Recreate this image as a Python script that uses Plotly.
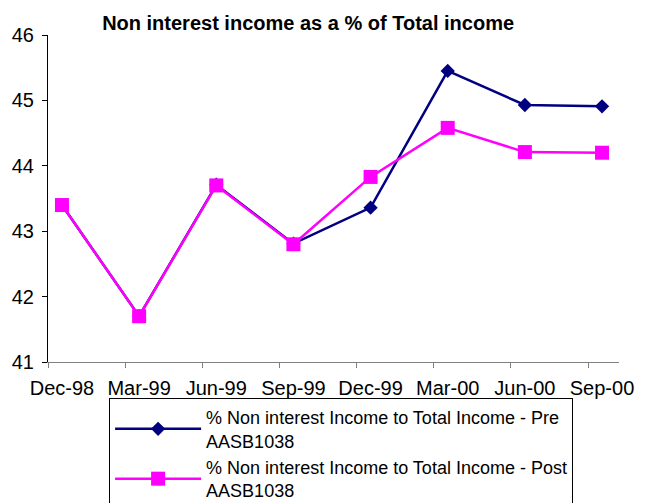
import plotly.graph_objects as go

# Data
quarters = ['Dec-98', 'Mar-99', 'Jun-99', 'Sep-99', 'Dec-99', 'Mar-00', 'Jun-00', 'Sep-00']
pre_aasb = [43.40, 41.70, 43.71, 42.81, 43.36, 45.45, 44.93, 44.91]
post_aasb = [43.40, 41.70, 43.70, 42.80, 43.83, 44.58, 44.21, 44.20]
y_ticks = [41, 42, 43, 44, 45, 46]

idx = list(range(len(quarters)))
font = 'Arial, Liberation Sans, sans-serif'

fig = go.Figure()
fig.add_trace(go.Scatter(
    x=idx, y=pre_aasb, mode='lines+markers',
    name='% Non interest Income to Total Income - Pre<br>AASB1038',
    line=dict(color='#000080', width=2.5),
    marker=dict(symbol='diamond', size=11, color='#000080'),
))
fig.add_trace(go.Scatter(
    x=idx, y=post_aasb, mode='lines+markers',
    name='% Non interest Income to Total Income - Post<br>AASB1038',
    line=dict(color='#FF00FF', width=2.5),
    marker=dict(symbol='square', size=14, color='#FF00FF'),
))

x_lo, x_hi = -0.181, 7.22

fig.update_layout(
    width=650, height=503,
    margin=dict(l=48, r=31, t=35, b=141, autoexpand=False),
    plot_bgcolor='white', paper_bgcolor='white',
    font=dict(family=font, size=20, color='black'),
    title=dict(text='<b>Non interest income as a % of Total income</b>',
               x=0.474, xanchor='center', y=0.955, yanchor='middle',
               font=dict(size=20)),
    xaxis=dict(range=[x_lo, x_hi], tickvals=idx, ticktext=quarters,
               showgrid=False, zeroline=False, showline=True,
               linecolor='#808080', linewidth=1,
               ticks='outside', ticklen=8, tickcolor='rgba(0,0,0,0)'),
    # second x axis just for the tick marks between categories
    xaxis2=dict(range=[x_lo, x_hi], overlaying='x', side='bottom',
                tickvals=[x_lo + k for k in range(8)], ticktext=[''] * 8,
                showgrid=False, zeroline=False, showline=False,
                ticks='outside', ticklen=5, tickcolor='#808080'),
    yaxis=dict(range=[41, 46], tickvals=y_ticks, showgrid=False,
               zeroline=False, showline=True, linecolor='black', linewidth=1,
               ticks='outside', ticklen=5, tickcolor='black',
               ticklabelstandoff=4),
    showlegend=True,
    legend=dict(x=0.107, y=-0.110, xanchor='left', yanchor='top',
                bordercolor='black', borderwidth=1, bgcolor='white',
                font=dict(size=18), tracegroupgap=0, itemwidth=86),
)

# dummy trace on xaxis2 so it gets drawn
fig.add_trace(go.Scatter(x=[x_lo], y=[41], xaxis='x2', mode='markers',
                         marker=dict(opacity=0), showlegend=False,
                         hoverinfo='skip'))

# no default page margin, so the figure sits at the top-left corner
fig.write_html("out.html", config={'displayModeBar': False},
               post_script="document.body.style.margin='0';")
